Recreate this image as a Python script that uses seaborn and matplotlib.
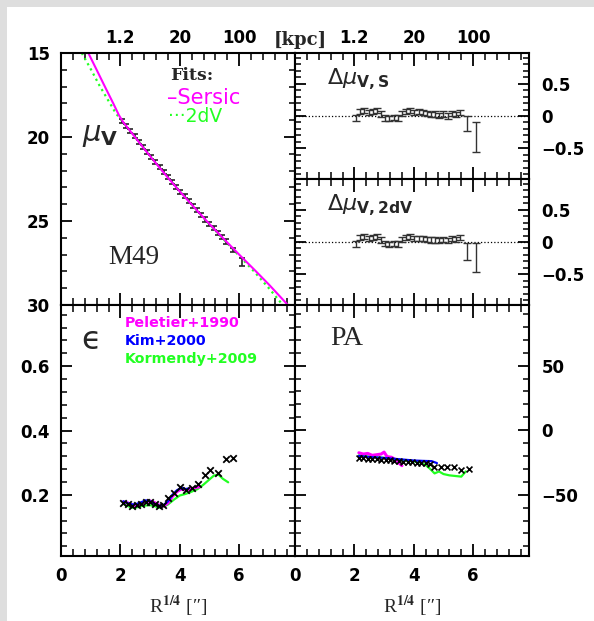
"""M49 surface photometry panels: mu_V profile, fit residuals, ellipticity and PA."""
import matplotlib
matplotlib.use("Agg")
import matplotlib.pyplot as plt
import seaborn as sns
from matplotlib.patches import Rectangle
from matplotlib.ticker import FixedLocator, FuncFormatter, MultipleLocator

# ---- surface brightness profile (x = R^1/4 in arcsec^1/4) ----
r_pts = [2.06, 2.20, 2.34, 2.48, 2.62, 2.76, 2.90, 3.04, 3.18, 3.32, 3.46, 3.60, 3.74, 3.88,
         4.02, 4.16, 4.30, 4.44, 4.58, 4.72, 4.86, 5.00, 5.14, 5.28, 5.42, 5.56, 5.80, 6.08]
mu_v = [19.03, 19.34, 19.65, 19.96, 20.27, 20.58, 20.89, 21.20, 21.50, 21.80, 22.10, 22.40,
        22.69, 22.97, 23.25, 23.53, 23.81, 24.09, 24.37, 24.64, 24.91, 25.18, 25.44, 25.70,
        25.96, 26.22, 26.72, 27.45]
mu_err = [0.12, 0.12, 0.12, 0.12, 0.12, 0.12, 0.12, 0.12, 0.12, 0.12, 0.12, 0.12, 0.12, 0.12,
          0.12, 0.12, 0.12, 0.12, 0.12, 0.12, 0.12, 0.12, 0.12, 0.12, 0.12, 0.12, 0.14, 0.25]

sersic_x = [0.92, 1.2, 1.5, 1.76, 1.95, 2.1, 2.4, 2.8, 3.2, 3.6, 4.0, 4.5, 5.0, 5.5, 6.0,
            6.5, 7.0, 7.64]
sersic_mu = [15.0, 16.0, 17.08, 18.0, 18.7, 19.13, 19.8, 20.7, 21.57, 22.42, 23.24, 24.22,
             25.18, 26.1, 27.0, 27.88, 28.78, 30.0]
dv_x = [0.70, 1.0, 1.3, 1.6, 1.85, 2.1, 2.5, 3.0, 3.5, 4.0, 4.5, 5.0, 5.5, 6.0, 6.5, 7.0, 7.47]
dv_mu = [15.0, 15.95, 16.95, 17.85, 18.6, 19.13, 20.0, 21.1, 22.18, 23.24, 24.22, 25.2,
         26.14, 27.07, 28.0, 29.0, 30.0]

# residuals w.r.t. each fit
dmu_sersic = [-0.03, 0.07, 0.09, 0.06, 0.07, 0.08, 0.03, -0.03, -0.04, -0.02, -0.03, 0.04,
              0.07, 0.08, 0.06, 0.07, 0.05, 0.04, 0.02, 0.03, 0.01, 0.03, 0.00, 0.04, 0.02,
              0.05, -0.12, -0.32]
dmu_sersic_err = [0.04, 0.04, 0.04, 0.04, 0.04, 0.04, 0.04, 0.04, 0.04, 0.04, 0.04, 0.04,
                  0.04, 0.04, 0.04, 0.04, 0.04, 0.04, 0.04, 0.04, 0.04, 0.04, 0.04, 0.04,
                  0.04, 0.04, 0.115, 0.23]
dmu_2dv = [-0.03, 0.07, 0.08, 0.06, 0.07, 0.08, 0.03, -0.02, -0.04, -0.02, -0.03, 0.04,
           0.07, 0.08, 0.06, 0.06, 0.05, 0.04, 0.03, 0.03, 0.02, 0.04, 0.02, 0.06, 0.04,
           0.07, -0.14, -0.24]
dmu_2dv_err = [0.04, 0.04, 0.04, 0.04, 0.04, 0.04, 0.04, 0.04, 0.04, 0.04, 0.04, 0.04,
               0.04, 0.04, 0.04, 0.04, 0.04, 0.04, 0.04, 0.04, 0.04, 0.04, 0.04, 0.04,
               0.04, 0.04, 0.13, 0.22]

# ---- ellipticity ----
eps_x = [2.1, 2.25, 2.4, 2.55, 2.7, 2.85, 3.0, 3.15, 3.3, 3.45, 3.6, 3.8, 4.0, 4.2, 4.4,
         4.6, 4.84, 5.03, 5.28, 5.55, 5.79]
eps = [0.175, 0.172, 0.165, 0.168, 0.172, 0.178, 0.178, 0.172, 0.166, 0.17, 0.19, 0.207,
       0.223, 0.216, 0.22, 0.235, 0.263, 0.278, 0.269, 0.31, 0.316]
pel_eps_x = [2.1, 2.25, 2.4, 2.55, 2.7, 2.85, 3.0, 3.15, 3.3, 3.45, 3.6, 3.75, 3.9, 4.05,
             4.2, 4.35, 4.5, 4.65]
pel_eps = [0.178, 0.175, 0.168, 0.167, 0.173, 0.179, 0.181, 0.176, 0.168, 0.165, 0.175,
           0.195, 0.21, 0.218, 0.215, 0.218, 0.222, 0.225]
kim_eps_x = [2.1, 2.25, 2.4, 2.55, 2.7, 2.85, 3.0, 3.15, 3.3, 3.45, 3.6, 3.75, 3.9, 4.05,
             4.2, 4.3]
kim_eps = [0.18, 0.174, 0.17, 0.172, 0.177, 0.183, 0.18, 0.172, 0.166, 0.168, 0.18, 0.2,
           0.214, 0.222, 0.218, 0.22]
kor_eps_x = [2.1, 2.25, 2.4, 2.55, 2.7, 2.85, 3.0, 3.15, 3.3, 3.45, 3.6, 3.8, 4.0, 4.2, 4.4,
             4.6, 4.8, 5.0, 5.15, 5.3, 5.45, 5.63]
kor_eps = [0.172, 0.165, 0.16, 0.161, 0.165, 0.167, 0.168, 0.165, 0.16, 0.163, 0.17, 0.185,
           0.198, 0.203, 0.21, 0.218, 0.232, 0.248, 0.26, 0.263, 0.25, 0.239]

# ---- position angle ----
pa_x = [2.15, 2.3, 2.45, 2.6, 2.75, 2.9, 3.05, 3.2, 3.35, 3.5, 3.65, 3.8, 3.95, 4.1, 4.25,
        4.4, 4.55, 4.67, 4.9, 5.12, 5.35, 5.58, 5.86]
pa = [-21.5, -21.8, -22.0, -22.3, -22.5, -22.8, -23.0, -23.2, -23.6, -24.0, -24.3, -24.6,
      -24.8, -25.1, -25.4, -25.8, -26.3, -28.4, -28.9, -28.9, -28.9, -31.0, -30.2]
pel_pa_x = [2.15, 2.3, 2.45, 2.6, 2.75, 2.9, 3.0, 3.1, 3.25, 3.4, 3.5, 3.6]
pel_pa = [-17.5, -18.5, -18.0, -19.5, -19.0, -18.5, -17.0, -20.5, -21.0, -23.0, -25.5, -27.5]
kim_pa_x = [2.15, 2.5, 3.0, 3.5, 4.0, 4.3, 4.6, 4.78]
kim_pa = [-20.0, -20.8, -21.5, -22.5, -23.5, -23.8, -24.0, -25.5]
kor_pa_x = [2.15, 2.5, 3.0, 3.5, 4.0, 4.2, 4.4, 4.55, 4.7, 4.85, 5.0, 5.2, 5.4, 5.6, 5.75]
kor_pa = [-19.5, -20.5, -21.5, -23.0, -24.2, -25.0, -27.0, -30.0, -33.5, -32.0, -34.0,
          -35.0, -35.5, -36.0, -32.0]

# top axis: physical radius at R^1/4 = 2, 4, 6
kpc_ticks = [2, 4, 6]
kpc_labels = ["1.2", "20", "100"]

MAGENTA, BLUE, GREEN = "#ff00ff", "#0000ff", "#22ff22"
W, H = 594, 621

sns.set_theme(style="ticks")
plt.rcParams.update({
    "font.family": ["DejaVu Sans"],
    "font.weight": "bold",
    "mathtext.fontset": "custom",
    "mathtext.rm": "DejaVu Sans:normal",
    "mathtext.it": "DejaVu Sans:italic:normal",
    "mathtext.bf": "DejaVu Sans:bold",
    "axes.linewidth": 1.5,
    "axes.edgecolor": "black",
    "xtick.direction": "in",
    "ytick.direction": "in",
    "xtick.top": True,
    "ytick.right": True,
    "xtick.major.size": 9,
    "ytick.major.size": 8,
    "xtick.minor.size": 5,
    "ytick.minor.size": 4.5,
    "xtick.major.width": 1.3,
    "ytick.major.width": 1.3,
    "xtick.minor.width": 1.1,
    "ytick.minor.width": 1.1,
    "xtick.color": "black",
    "ytick.color": "black",
    "xtick.labelsize": 12,
    "ytick.labelsize": 12,
})


def px_rect(x0, y0, x1, y1):
    return [x0 / W, 1 - y1 / H, (x1 - x0) / W, (y1 - y0) / H]


def signed(v, _):
    s = f"{v:g}"
    if s == "-0":
        s = "0"
    return s.replace("-", "\u2212")


def style_axis(ax, ylim, ymajor, yminor, right=False, top_kpc=False, bottom_labels=False):
    ax.set_xlim(0, 7.88)
    ax.set_ylim(*ylim)
    ax.xaxis.set_minor_locator(MultipleLocator(0.4))
    ax.yaxis.set_major_locator(MultipleLocator(ymajor))
    ax.yaxis.set_minor_locator(MultipleLocator(yminor))
    ax.yaxis.set_major_formatter(FuncFormatter(signed))
    if top_kpc:
        ax.xaxis.set_major_locator(FixedLocator(kpc_ticks))
        ax.xaxis.set_major_formatter(FuncFormatter(
            lambda v, _: kpc_labels[kpc_ticks.index(int(round(v)))] if int(round(v)) in kpc_ticks else ""))
        ax.tick_params(axis="x", which="both", labeltop=True, labelbottom=False, pad=4)
    else:
        ax.xaxis.set_major_locator(MultipleLocator(2))
        ax.xaxis.set_major_formatter(FuncFormatter(signed))
        ax.tick_params(axis="x", which="both", labeltop=False, labelbottom=bottom_labels, pad=8)
    if right:
        ax.tick_params(axis="y", which="both", labelleft=False, labelright=True, pad=9)
    else:
        ax.tick_params(axis="y", which="both", labelleft=True, labelright=False, pad=8)
    for s in ax.spines.values():
        s.set_visible(True)
    ax.set_xlabel("")
    ax.set_ylabel("")


fig = plt.figure(figsize=(W / 100, H / 100), dpi=100)
fig.patch.set_facecolor("#dedede")
fig.patches.append(Rectangle((7 / W, 0), 1 - 7 / W, 1 - 7 / H, transform=fig.transFigure,
                             facecolor="white", edgecolor="none", zorder=-10))

ax_mu = fig.add_axes(px_rect(61, 53, 295, 305))
ax_ds = fig.add_axes(px_rect(295, 53, 529, 179))
ax_d2 = fig.add_axes(px_rect(295, 179, 529, 305))
ax_eps = fig.add_axes(px_rect(61, 305, 295, 556))
ax_pa = fig.add_axes(px_rect(295, 305, 529, 556))

# mu_V profile with fits
sns.lineplot(x=dv_x, y=dv_mu, ax=ax_mu, color=GREEN, lw=1.6, linestyle=":", sort=False,
             estimator=None)
ax_mu.errorbar(r_pts, mu_v, yerr=mu_err, fmt="none", ecolor="#262626", elinewidth=1.2,
               capsize=2.5, capthick=1.2)
sns.lineplot(x=sersic_x, y=sersic_mu, ax=ax_mu, color=MAGENTA, lw=1.5, sort=False,
             estimator=None)
style_axis(ax_mu, (30, 15), 5, 1, top_kpc=True)
ax_mu.text(0.09, 0.675, r"$\mu_{\mathbf{V}}$", transform=ax_mu.transAxes, fontsize=21,
           weight="normal", ha="left", va="center")
ax_mu.text(0.466, 0.909, "Fits:", transform=ax_mu.transAxes, fontsize=12.5,
           family="DejaVu Serif", weight="bold", ha="left", va="center")
ax_mu.text(0.455, 0.821, "\u2013Sersic", transform=ax_mu.transAxes, fontsize=15,
           color=MAGENTA, weight="normal", ha="left", va="center")
ax_mu.text(0.457, 0.75, "\u00b7\u00b7\u00b72dV", transform=ax_mu.transAxes, fontsize=13.5,
           color=GREEN, weight="normal", ha="left", va="center")
ax_mu.text(0.20, 0.187, "M49", transform=ax_mu.transAxes, fontsize=19.5,
           family="Liberation Serif", weight="normal", ha="left", va="center")

# residual panels
for ax, dmu, derr, label in [(ax_ds, dmu_sersic, dmu_sersic_err, r"$\Delta\mu_{\mathbf{V,S}}$"),
                             (ax_d2, dmu_2dv, dmu_2dv_err, r"$\Delta\mu_{\mathbf{V,2dV}}$")]:
    ax.axhline(0, color="black", ls=":", lw=0.9)
    ax.errorbar(r_pts, dmu, yerr=derr, fmt="none", ecolor="#333333", elinewidth=1.0,
                capsize=3, capthick=1.0)
    style_axis(ax, (-0.97, 0.97), 0.5, 0.1, right=True, top_kpc=(ax is ax_ds))
    ax.text(0.137, 0.79, label, transform=ax.transAxes, fontsize=16, weight="normal",
            ha="left", va="center")

# ellipticity
sns.lineplot(x=kor_eps_x, y=kor_eps, ax=ax_eps, color=GREEN, lw=1.6, sort=False, estimator=None)
sns.lineplot(x=pel_eps_x, y=pel_eps, ax=ax_eps, color=MAGENTA, lw=2.2, sort=False, estimator=None)
sns.lineplot(x=kim_eps_x, y=kim_eps, ax=ax_eps, color=BLUE, lw=1.6, sort=False, estimator=None)
sns.scatterplot(x=eps_x, y=eps, ax=ax_eps, marker="x", s=22, color="black", linewidth=1.3,
                zorder=5)
style_axis(ax_eps, (0.01, 0.79), 0.2, 0.04, bottom_labels=True)
ax_eps.text(0.085, 0.86, "\u03f5", transform=ax_eps.transAxes, fontsize=23,
            weight="normal", ha="left", va="center")
for txt, col, fy in [("Peletier+1990", MAGENTA, 0.928), ("Kim+2000", BLUE, 0.857),
                     ("Kormendy+2009", GREEN, 0.785)]:
    ax_eps.text(0.273, fy, txt, transform=ax_eps.transAxes, fontsize=10.3, color=col,
                weight="bold", ha="left", va="center")

# position angle
sns.lineplot(x=kor_pa_x, y=kor_pa, ax=ax_pa, color=GREEN, lw=1.6, sort=False, estimator=None)
sns.lineplot(x=pel_pa_x, y=pel_pa, ax=ax_pa, color=MAGENTA, lw=2.2, sort=False, estimator=None)
sns.lineplot(x=kim_pa_x, y=kim_pa, ax=ax_pa, color=BLUE, lw=1.6, sort=False, estimator=None)
sns.scatterplot(x=pa_x, y=pa, ax=ax_pa, marker="x", s=18, color="black", linewidth=1.2,
                zorder=5)
style_axis(ax_pa, (-97.5, 97), 50, 10, right=True, bottom_labels=True)
ax_pa.text(0.15, 0.868, "PA", transform=ax_pa.transAxes, fontsize=20,
           family="Liberation Serif", weight="normal", ha="left", va="center")

for ax in (ax_eps, ax_pa):
    ax.set_xlabel("R$^{1/4}$ [\u2033]", family=["Liberation Serif", "DejaVu Serif"],
                  weight="normal", fontsize=14, labelpad=6, math_fontfamily="stix")

fig.text(300 / W, 1 - 40 / H, "[kpc]", family="DejaVu Serif", weight="bold", fontsize=13,
         ha="center", va="center")

fig.savefig("out.png", dpi=100, facecolor=fig.get_facecolor())
